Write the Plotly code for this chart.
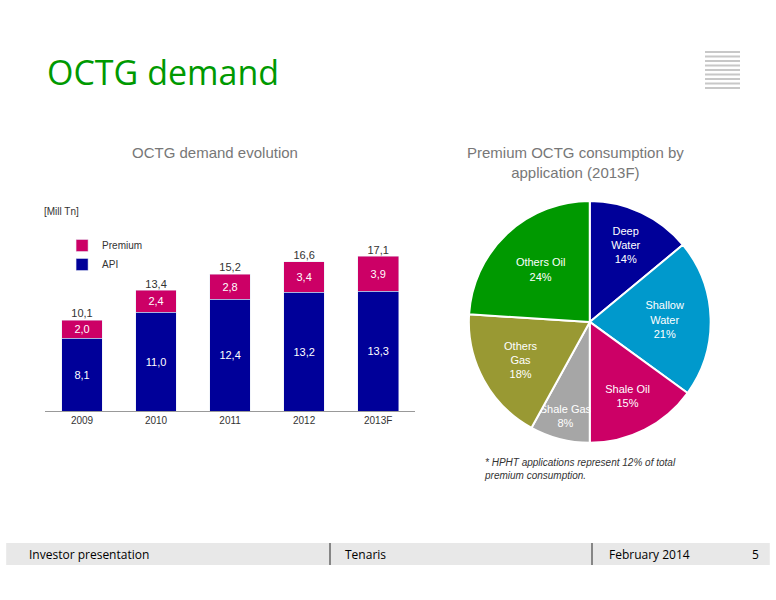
import plotly.graph_objects as go

years = ["2009", "2010", "2011", "2012", "2013F"]
api = [8.1, 11.0, 12.4, 13.2, 13.3]
premium = [2.0, 2.4, 2.8, 3.4, 3.9]
totals = [10.1, 13.4, 15.2, 16.6, 17.1]

pie_labels = ["Deep<br>Water", "Shallow<br>Water", "Shale Oil", "Shale Gas", "Others<br>Gas", "Others Oil"]
pie_values = [14, 21, 15, 8, 18, 24]
pie_colors = ["#000099", "#0099CC", "#CC0066", "#A6A6A6", "#999933", "#009900"]

def fmt(v):
    return f"{v:.1f}".replace(".", ",")

fig = go.Figure()
fig.add_trace(go.Bar(x=years, y=api, name="API", marker_color="#000099", width=0.55,
                     text=[fmt(v) for v in api], textposition="inside", insidetextanchor="middle",
                     textfont=dict(color="white", size=11, family="Arial")))
fig.add_trace(go.Bar(x=years, y=premium, name="Premium", marker_color="#CC0066", width=0.55,
                     text=[fmt(v) for v in premium], textposition="inside", insidetextanchor="middle",
                     textfont=dict(color="white", size=11, family="Arial")))
fig.add_trace(go.Scatter(x=years, y=totals, mode="text", text=[fmt(v) for v in totals],
                         textposition="top center", showlegend=False,
                         textfont=dict(size=11, color="#333333", family="Arial")))
fig.add_trace(go.Pie(labels=pie_labels, values=pie_values, sort=False, direction="clockwise",
                     rotation=0, marker=dict(colors=pie_colors, line=dict(color="white", width=2)),
                     texttemplate="%{label}<br>%{percent:.0%}",
                     textposition="inside", insidetextorientation="horizontal",
                     textfont=dict(color="white", size=11, family="Arial"),
                     domain=dict(x=[0.595, 0.925], y=[0.262, 0.665]), showlegend=False))

def ann(text, x, y, size, color="#333333", xanchor="center", family="Arial", align="center"):
    return dict(text=text, x=x/776, y=1-y/600, xref="paper", yref="paper", showarrow=False,
                xanchor=xanchor, yanchor="middle", align=align,
                font=dict(size=size, color=color, family=family))

fig.update_layout(
    width=776, height=600, margin=dict(l=0, r=0, t=0, b=0),
    paper_bgcolor="white", plot_bgcolor="white", barmode="stack", bargap=0.45,
    font=dict(family="Arial", color="#333333"),
    uniformtext=dict(minsize=11, mode="show"),
    xaxis=dict(domain=[0.058, 0.535], showline=True, linecolor="#999999",
               tickfont=dict(size=10), ticks=""),
    yaxis=dict(domain=[0.315, 0.615], range=[0, 20], visible=False),
    legend=dict(x=0.08, y=0.615, xanchor="left", yanchor="top", traceorder="reversed",
                font=dict(size=10), bgcolor="rgba(0,0,0,0)", itemwidth=30),
    shapes=[
        dict(type="rect", xref="paper", yref="paper", x0=0.008, x1=0.992,
             y0=1-565/600, y1=1-543/600, fillcolor="#E8E8E8", line_width=0, layer="below"),
        dict(type="line", xref="paper", yref="paper", x0=330/776, x1=330/776,
             y0=1-565/600, y1=1-543/600, line=dict(color="#666666", width=1.5)),
        dict(type="line", xref="paper", yref="paper", x0=592/776, x1=592/776,
             y0=1-565/600, y1=1-543/600, line=dict(color="#666666", width=1.5)),
    ] + [dict(type="line", xref="paper", yref="paper", x0=705/776, x1=740/776,
              y0=1-(52+i*4.5)/600, y1=1-(52+i*4.5)/600, line=dict(color="#C8C8C8", width=2))
         for i in range(9)],
    annotations=[
        ann("OCTG demand", 45, 72, 34, "#009900", "left", "Open Sans"),
        ann("OCTG demand evolution", 215, 152, 15, "#777777"),
        ann("Premium OCTG consumption by<br>application (2013F)", 575, 162, 15, "#777777"),
        ann("[Mill Tn]", 42, 211, 10, xanchor="left"),
        ann("<i>* HPHT applications represent 12% of total<br>premium consumption.</i>", 482, 469, 10,
            xanchor="left", align="left"),
        ann("Investor presentation", 27, 554, 12, "black", "left", "Open Sans"),
        ann("Tenaris", 343, 554, 12, "black", "left", "Open Sans"),
        ann("February 2014", 607, 554, 12, "black", "left", "Open Sans"),
        ann("5", 761, 554, 12, "black", "right", "Open Sans"),
    ],
)
fig.write_html("out.html", config={"displayModeBar": False},
               post_script="document.body.style.margin='0';")
